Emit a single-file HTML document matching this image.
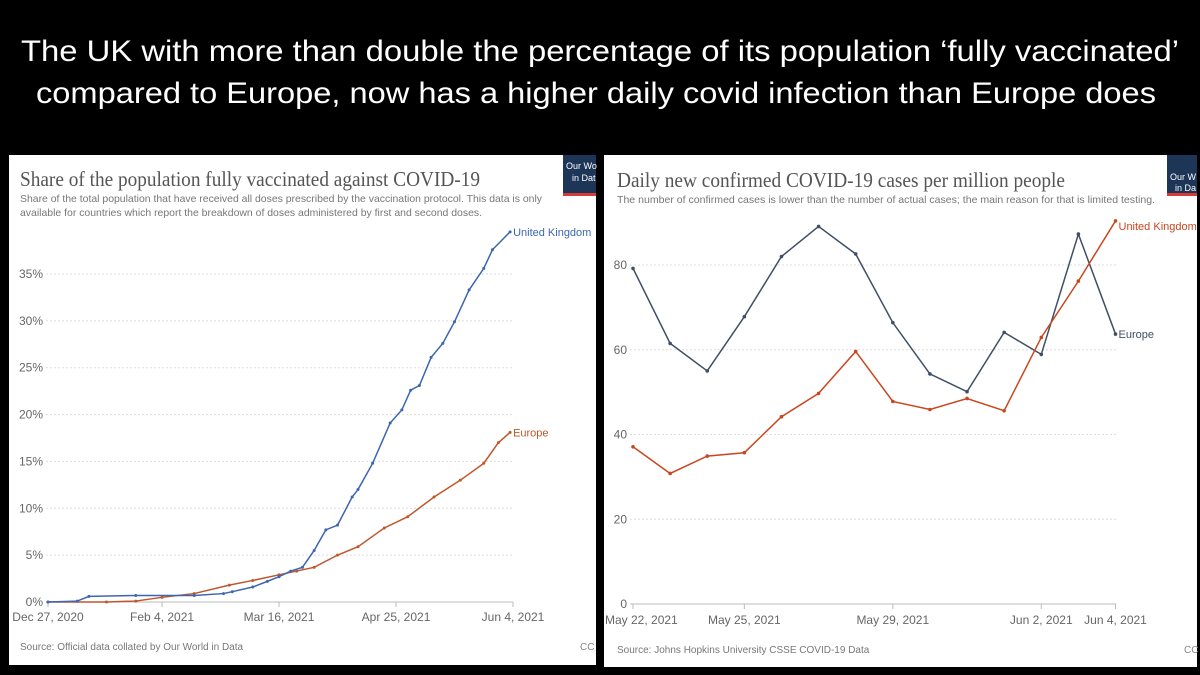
<!DOCTYPE html>
<html><head><meta charset="utf-8"><style>
html,body{margin:0;padding:0;background:#000;}
svg{display:block;font-family:"Liberation Sans",sans-serif;}
</style></head><body>
<svg id="root" width="1200" height="675" viewBox="0 0 1200 675">
<rect width="1200" height="675" fill="#000"/>
<text x="600" y="61" fill="#fff" font-size="30" text-anchor="middle" textLength="1158" lengthAdjust="spacingAndGlyphs">The UK with more than double the percentage of its population ‘fully vaccinated’</text>
<text x="596" y="103" fill="#fff" font-size="30" text-anchor="middle" textLength="1120" lengthAdjust="spacingAndGlyphs">compared to Europe, now has a higher daily covid infection than Europe does</text>

<g>
<rect x="9" y="155" width="587" height="510" fill="#fff"/>
<text x="20" y="186" font-family="Liberation Serif,serif" font-size="21" fill="#555" textLength="460" lengthAdjust="spacingAndGlyphs">Share of the population fully vaccinated against COVID-19</text>
<text x="20" y="202" font-size="10.5" fill="#777" textLength="522" lengthAdjust="spacingAndGlyphs">Share of the total population that have received all doses prescribed by the vaccination protocol. This data is only</text>
<text x="20" y="216" font-size="10.5" fill="#777" textLength="462" lengthAdjust="spacingAndGlyphs">available for countries which report the breakdown of doses administered by first and second doses.</text>
<rect x="563" y="155" width="33" height="38" fill="#1d3557"/>
<rect x="563" y="193" width="33" height="3" fill="#d73a3a"/>
<text x="566" y="169" font-size="9" fill="#fff">Our Wo</text>
<text x="572" y="181" font-size="9" fill="#fff">in Dat</text>
<g id="leftChart"></g>
<text x="20" y="650" font-size="10" fill="#777">Source: Official data collated by Our World in Data</text>
<text x="580" y="650" font-size="10" fill="#888">CC</text>
</g>

<g>
<rect x="604" y="155" width="593" height="512" fill="#fff"/>
<text x="617" y="187" font-family="Liberation Serif,serif" font-size="21" fill="#555" textLength="448" lengthAdjust="spacingAndGlyphs">Daily new confirmed COVID-19 cases per million people</text>
<text x="617" y="203" font-size="10.5" fill="#777" textLength="538" lengthAdjust="spacingAndGlyphs">The number of confirmed cases is lower than the number of actual cases; the main reason for that is limited testing.</text>
<rect x="1167" y="155" width="30" height="38" fill="#1d3557"/>
<rect x="1167" y="193" width="30" height="3" fill="#d73a3a"/>
<text x="1170" y="180" font-size="9" fill="#fff">Our W</text>
<text x="1175" y="191" font-size="9" fill="#fff">in Da</text>
<g id="rightChart"></g>
<text x="617" y="653" font-size="10" fill="#777">Source: Johns Hopkins University CSSE COVID-19 Data</text>
<text x="1184" y="653" font-size="10" fill="#888">CC</text>
</g>
</svg>
<script>
// ---- Left chart data (days since Dec 27, 2020 ; percent) ----
const ukVaxDays = [0,10,14,30,50,60,63,70,75,79,83,87,91,95,99,104,106,111,117,121,124,127,131,135,139,144,149,152,158];
const ukVaxPct  = [0,0.1,0.6,0.7,0.7,0.9,1.1,1.6,2.2,2.7,3.3,3.7,5.5,7.7,8.2,11.2,12,14.8,19.1,20.5,22.6,23.1,26.1,27.6,29.9,33.3,35.6,37.6,39.5];
const euVaxDays = [0,20,30,39,50,62,70,79,85,91,99,106,115,123,132,141,149,154,158];
const euVaxPct  = [0,0,0.1,0.5,0.9,1.8,2.3,2.9,3.3,3.7,5.0,5.9,7.9,9.1,11.2,13.0,14.8,17.0,18.1];
const vaxYTicks = [0,5,10,15,20,25,30,35];
const vaxXTickDays = [0,39,79,119,159];
const vaxXTickLabels = ["Dec 27, 2020","Feb 4, 2021","Mar 16, 2021","Apr 25, 2021","Jun 4, 2021"];

// ---- Right chart data (daily cases per million) ----
const caseDates = ["May 22","May 23","May 24","May 25","May 26","May 27","May 28","May 29","May 30","May 31","Jun 1","Jun 2","Jun 3","Jun 4"];
const europeCases = [79.2,61.5,55.0,67.8,82.0,89.1,82.6,66.4,54.3,50.1,64.1,58.9,87.3,63.7];
const ukCases     = [37.1,30.8,34.9,35.7,44.2,49.7,59.6,47.8,45.9,48.5,45.6,62.9,76.2,90.4];
const caseYTicks = [0,20,40,60,80];
const caseXTickIdx = [0,3,7,11,13];
const caseXTickLabels = ["May 22, 2021","May 25, 2021","May 29, 2021","Jun 2, 2021","Jun 4, 2021"];

const NS = "http://www.w3.org/2000/svg";
function mk(parent, tag, attrs){const e=document.createElementNS(NS,tag);for(const k in attrs)e.setAttribute(k,attrs[k]);parent.appendChild(e);return e;}

// Left chart
(function(){
  const g=document.getElementById('leftChart');
  const x=d=>48+d*(513-48)/159, y=v=>602-v*(602-274)/35;
  vaxYTicks.forEach(t=>{
    const l=mk(g,'line',{x1:46,x2:513,y1:y(t),y2:y(t),stroke:t?'#ddd':'#bbb','stroke-dasharray':t?'2,2':'none'});
    
    
    const tx=mk(g,'text',{x:43,y:y(t)+4,'font-size':12,fill:'#666','text-anchor':'end'});
    tx.textContent=t+'%';
    
    
  });
  vaxXTickDays.forEach((d,i)=>{
    mk(g,'line',{x1:x(d),x2:x(d),y1:602,y2:607,stroke:'#bbb'});
    const tx=mk(g,'text',{x:x(d),y:621,'font-size':12,fill:'#666','text-anchor':'middle'});
    tx.textContent=vaxXTickLabels[i];
    
    
  });
  function series(days,vals,color,name,label){
    const p=mk(g,'polyline',{points:days.map((d,i)=>x(d)+','+y(vals[i])).join(' '),fill:'none',stroke:color,'stroke-width':1.5});
    
    
    days.forEach((d,i)=>{
      const c=mk(g,'circle',{cx:x(d),cy:y(vals[i]),r:1.5,fill:color});
      
      
    });
    const n=days.length-1;
    const t=mk(g,'text',{x:x(days[n])+3,y:y(vals[n])+4,'font-size':11,fill:color});
    t.textContent=label;
    
    
  }
  series(euVaxDays,euVaxPct,'#c0562b','europe-vax','Europe');
  series(ukVaxDays,ukVaxPct,'#3d66b0','uk-vax','United Kingdom');
})();

// Right chart
(function(){
  const g=document.getElementById('rightChart');
  const x=i=>633+i*(1115.5-633)/13, y=v=>604-v*(604-265)/80;
  caseYTicks.forEach(t=>{
    const l=mk(g,'line',{x1:630,x2:1116,y1:y(t),y2:y(t),stroke:t?'#ddd':'#bbb','stroke-dasharray':t?'2,2':'none'});
    
    
    const tx=mk(g,'text',{x:627,y:y(t)+4,'font-size':12,fill:'#666','text-anchor':'end'});
    tx.textContent=t;
    
    
  });
  caseXTickIdx.forEach((d,i)=>{
    mk(g,'line',{x1:x(d),x2:x(d),y1:604,y2:609,stroke:'#bbb'});
    const tx=mk(g,'text',{x:i==0?605:x(d),y:624,'font-size':12,fill:'#666','text-anchor':i==0?'start':'middle'});
    tx.textContent=caseXTickLabels[i];
    
    
  });
  function series(vals,color,name,label,dy){
    const p=mk(g,'polyline',{points:vals.map((v,i)=>x(i)+','+y(v)).join(' '),fill:'none',stroke:color,'stroke-width':1.5});
    
    
    vals.forEach((v,i)=>{
      const c=mk(g,'circle',{cx:x(i),cy:y(v),r:1.8,fill:color});
      
      
    });
    const n=vals.length-1;
    const t=mk(g,'text',{x:x(n)+3,y:y(vals[n])+dy,'font-size':11,fill:color});
    t.textContent=label;
    
    
  }
  series(europeCases,'#3e4f66','europe-cases','Europe',4);
  series(ukCases,'#c9461f','uk-cases','United Kingdom',9);
})();
</script>
</body></html>
